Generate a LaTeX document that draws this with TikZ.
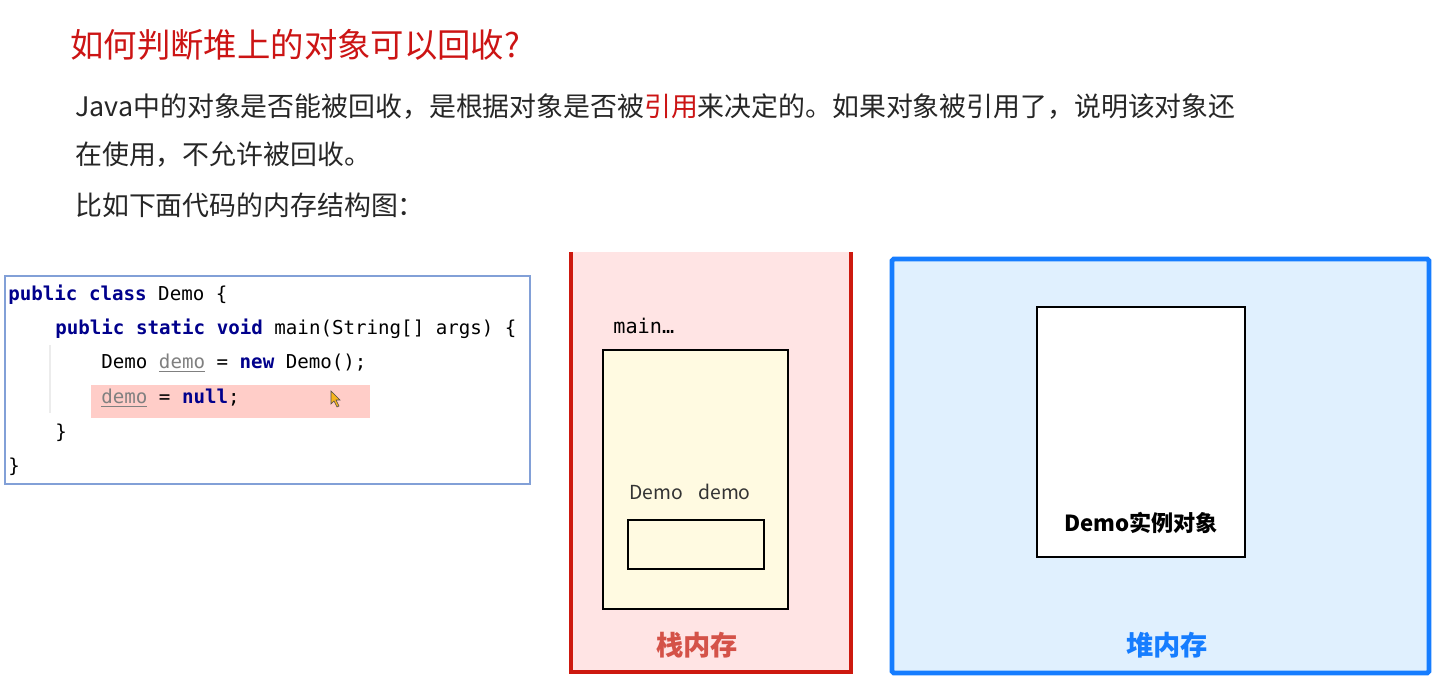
\documentclass[tikz,border=0pt]{standalone}
\usepackage{fontspec}
\setmainfont{Noto Sans CJK SC}
\setmonofont{DejaVu Sans Mono}
\usetikzlibrary{positioning}
\usepackage{xcolor}
\definecolor{titlered}{RGB}{204,20,20}
\definecolor{stackred}{RGB}{205,25,15}
\definecolor{stackfill}{RGB}{255,228,228}
\definecolor{stacklabel}{RGB}{212,82,72}
\definecolor{heapblue}{RGB}{22,125,255}
\definecolor{heapfill}{RGB}{224,240,254}
\definecolor{framefill}{RGB}{255,250,225}
\definecolor{codeborder}{RGB}{130,160,215}
\definecolor{hilite}{RGB}{255,205,200}
\definecolor{kwnavy}{RGB}{0,0,140}
\definecolor{cursoryellow}{RGB}{245,180,30}

\newcommand{\kwd}[1]{\textcolor{kwnavy}{\bfseries #1}}
\newcommand{\varref}[1]{\textcolor{gray}{\underline{#1}}}

\begin{document}
\begin{tikzpicture}[x=0.02cm, y=-0.02cm,
    body/.style={anchor=west, inner sep=0pt, font=\fontsize{15.3}{18}\selectfont, text=black!85},
    codeline/.style={anchor=west, inner sep=0pt, font=\ttfamily\fontsize{10.9}{13}\selectfont}]
    \useasboundingbox (0,0) rectangle (1448,696);
    \fill[white] (0,0) rectangle (1448,696);

    % heading and text
    \node[anchor=west, inner sep=0pt, text=titlered, font=\fontsize{19}{22}\selectfont] (title) at (70,45) {如何判断堆上的对象可以回收?};
    \node[body] (para1) at (75,107) {Java中的对象是否能被回收，是根据对象是否被\textcolor{titlered}{引用}来决定的。如果对象被引用了，说明该对象还};
    \node[body] (para2) at (75,155) {在使用，不允许被回收。};
    \node[body] (para3) at (75,205) {比如下面代码的内存结构图：};

    % code
    \draw[codeborder, line width=0.9pt, fill=white] (5,276) rectangle (530,484);
    \fill[hilite] (91,385) rectangle (370,418);
    \draw[gray!15, line width=0.6pt] (50,345) -- (50,413);
    \node[codeline] (code1) at (8,295) {\kwd{public} \kwd{class} Demo \{};
    \node[codeline] (code2) at (55,329) {\kwd{public} \kwd{static} \kwd{void} main(String[] args) \{};
    \node[codeline] (code3) at (101,363) {Demo \varref{demo} = \kwd{new} Demo();};
    \node[codeline] (code4) at (101,398) {\varref{demo} = \kwd{null};};
    \node[codeline] (code5) at (55,433) {\}};
    \node[codeline] (code6) at (8,467) {\}};
    \filldraw[fill=cursoryellow, draw=black!70, line width=0.3pt]
        (331,391) -- (331,404) -- (334,401) -- (337,407) -- (339,406) -- (336,400) -- (340,400) -- cycle;

    % stack
    \fill[stackfill] (571,252) rectangle (851,672);
    \draw[stackred, line width=2.4pt] (571,252) -- (571,672) -- (851,672) -- (851,252);
    \node[anchor=west, inner sep=0pt, font=\ttfamily\fontsize{11.5}{14}\selectfont] (mainlbl) at (613,326) {main…};
    \draw[fill=framefill, line width=0.8pt] (603,350) rectangle (788,609);
    \node[inner sep=0pt, font=\fontsize{11}{13}\selectfont, text=black!80] (demovar) at (690,492) {Demo\hspace{0.8em}demo};
    \draw[line width=0.8pt] (628,520) rectangle (764,569);
    \node[inner sep=0pt, font=\bfseries\fontsize{15.5}{18}\selectfont, text=stacklabel] (stacklbl) at (697,645) {栈内存};

    % heap
    \draw[heapblue, fill=heapfill, line width=2.8pt, rounded corners=1pt] (892,259) rectangle (1429,673);
    \draw[fill=white, line width=0.8pt] (1037,307) rectangle (1245,557);
    \node[inner sep=0pt, font=\bfseries\fontsize{12.6}{15}\selectfont] (objlbl) at (1141,523) {Demo实例对象};
    \node[inner sep=0pt, font=\bfseries\fontsize{15.5}{18}\selectfont, text=heapblue] (heaplbl) at (1167,645) {堆内存};
\end{tikzpicture}
\end{document}
